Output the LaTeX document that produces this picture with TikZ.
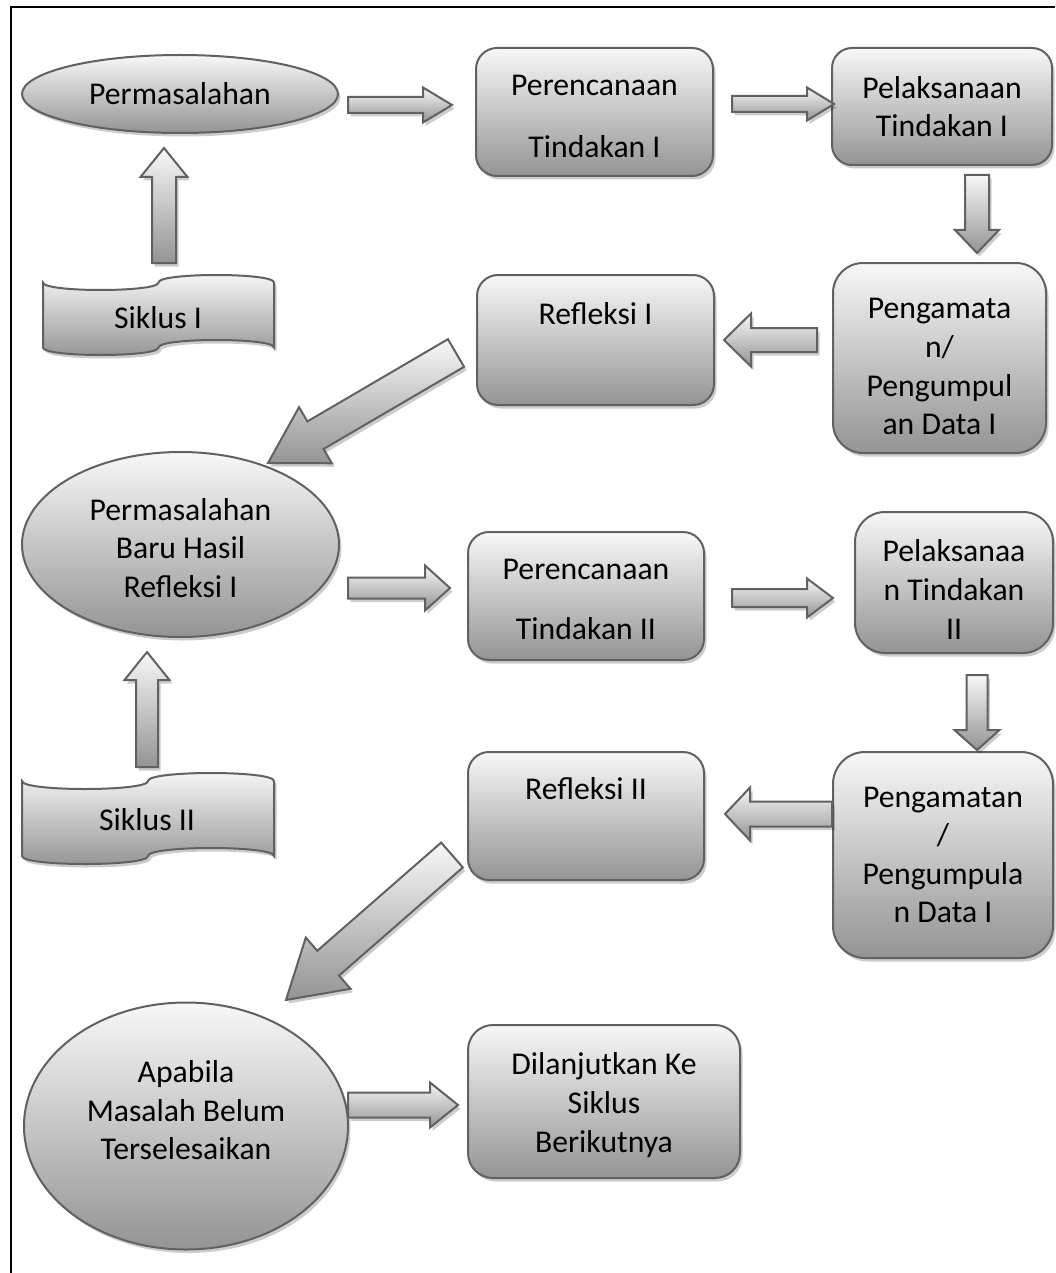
\documentclass[tikz,border=0pt]{standalone}
\usepackage{fontspec}
\setmainfont{Carlito}
\usetikzlibrary{calc}
\usetikzlibrary{shadows}
\usetikzlibrary{shapes.geometric}

% block arrow from #1 to #2: shaft width, head width, head length
\newcommand\blockarrow[5]{%
  \path[barrow] let \p1=(#1), \p2=(#2),
      \n1={atan2(\y2-\y1,\x2-\x1)}, \n2={veclen(\x2-\x1,\y2-\y1)} in
    [shift={(\p1)}, rotate=\n1]
    (0pt,{#3*.5pt}) -- ({\n2*1pt-#5*1pt},{#3*.5pt}) -- ({\n2*1pt-#5*1pt},{#4*.5pt})
    -- ({\n2*1pt},0pt) -- ({\n2*1pt-#5*1pt},{-#4*.5pt}) -- ({\n2*1pt-#5*1pt},{-#3*.5pt})
    -- (0pt,{-#3*.5pt}) -- cycle;}

% punched tape: left, top, width, height, wave depth
\newcommand\tape[5]{%
  \path[grayfill] (#1,{#2+#5})
    .. controls (#1,{#2+#5+4*#5/3}) and ({#1+#3/2},{#2+#5+4*#5/3}) .. ({#1+#3/2},{#2+#5})
    .. controls ({#1+#3/2},{#2+#5-4*#5/3}) and ({#1+#3},{#2+#5-4*#5/3}) .. ({#1+#3},{#2+#5})
    -- ({#1+#3},{#2+#4-#5})
    .. controls ({#1+#3},{#2+#4-#5-4*#5/3}) and ({#1+#3/2},{#2+#4-#5-4*#5/3}) .. ({#1+#3/2},{#2+#4-#5})
    .. controls ({#1+#3/2},{#2+#4-#5+4*#5/3}) and (#1,{#2+#4-#5+4*#5/3}) .. (#1,{#2+#4-#5})
    -- cycle;}

% taller first line, pushes the text down a little
\newcommand\lift[1]{\rule{0pt}{#1pt}}

\tikzset{
  grayfill/.style={top color=black!3, bottom color=black!42, draw=black!62, line width=2pt,
    drop shadow={shadow xshift=2.5pt, shadow yshift=-3.5pt, fill=black, opacity=.2}},
  txt/.style={font=\fontsize{31.7}{38.6}\selectfont, inner sep=0pt, align=center},
  box/.style={grayfill, txt, rectangle, rounded corners=21pt},
  oval/.style={grayfill, txt, ellipse},
  barrow/.style={grayfill, line join=miter}
}

\begin{document}
\begin{tikzpicture}[x=1pt, y=-1pt]
    \useasboundingbox (0,0) rectangle (1055,1273);

    % frame, only top and left are on the page
    \draw[line width=2pt] (1055,7) -- (11,7) -- (11,1273);

    % siklus I
    \node[oval, minimum width=316pt, minimum height=78pt] (e1) at (180,94) {Permasalahan};
    \node[box, minimum width=237pt, minimum height=128pt] (p1) at (594.5,112) {\lift{29}Perencanaan\\[23.4pt]Tindakan I};
    \node[box, minimum width=220pt, minimum height=117pt, rounded corners=20pt] (l1) at (942,106.5) {Pelaksanaan\\Tindakan I};
    \node[box, minimum width=213pt, minimum height=190pt, rounded corners=30pt] (g1) at (939.5,358) {\lift{38}Pengamata\\n/\\Pengumpul\\an Data I};
    \node[box, minimum width=237pt, minimum height=130pt] (r1) at (595.5,340) {Refleksi I\\[15.4pt]~};
    \tape{43}{275}{231}{80}{7.5}
    \node[txt] (sik1) at (158,318) {Siklus I};

    % siklus II
    \node[oval, minimum width=317pt, minimum height=185pt] (e2) at (180.5,544.5) {\lift{29}Permasalahan\\Baru Hasil\\Refleksi I};
    \node[box, minimum width=236pt, minimum height=128pt] (p2) at (586,596) {\lift{28}Perencanaan\\[21.4pt]Tindakan II};
    \node[box, minimum width=198pt, minimum height=141pt, rounded corners=30pt] (l2) at (954,582.5) {\lift{36}Pelaksanaa\\n Tindakan\\II};
    \node[box, minimum width=220pt, minimum height=206pt, rounded corners=32pt] (g2) at (943,855) {Pengamatan\\/\\Pengumpula\\n Data I};
    \node[box, minimum width=236pt, minimum height=128pt] (r2) at (586,816) {Refleksi II\\[17.4pt]~};
    \tape{22}{773}{252}{91}{8}
    \node[txt] (sik2) at (147,820) {Siklus II};

    % end
    \node[oval, minimum width=324pt, minimum height=247pt] (e3) at (186,1126) {Apabila\\Masalah Belum\\Terselesaikan\\[-6.6pt]~};
    \node[box, minimum width=272pt, minimum height=153pt, rounded corners=25pt] (dl) at (604,1101.5) {\lift{29}Dilanjutkan Ke\\Siklus\\Berikutnya};

    % arrows between the shapes
    \coordinate (a1s) at (348,105); \coordinate (a1e) at (452,105);
    \blockarrow{a1s}{a1e}{16}{35}{29}
    \coordinate (a2s) at (732,104); \coordinate (a2e) at (834,104);
    \blockarrow{a2s}{a2e}{16}{33}{27}
    \coordinate (a3s) at (977,175); \coordinate (a3e) at (977,253);
    \blockarrow{a3s}{a3e}{24}{44}{23}
    \coordinate (a4s) at (817,340); \coordinate (a4e) at (724,340);
    \blockarrow{a4s}{a4e}{24}{53}{27}
    \coordinate (a5s) at (456,353); \coordinate (a5e) at (268,463);
    \blockarrow{a5s}{a5e}{32}{65}{55}
    \coordinate (a6s) at (164,263); \coordinate (a6e) at (164,148);
    \blockarrow{a6s}{a6e}{24}{47}{29}

    \coordinate (a7s) at (348,588); \coordinate (a7e) at (450,588);
    \blockarrow{a7s}{a7e}{21}{45}{25}
    \coordinate (a8s) at (732,598); \coordinate (a8e) at (833,598);
    \blockarrow{a8s}{a8e}{18}{39}{26}
    \coordinate (a9s) at (977,675); \coordinate (a9e) at (977,750);
    \blockarrow{a9s}{a9e}{21}{45}{20}
    \coordinate (a10s) at (832,814); \coordinate (a10e) at (725,814);
    \blockarrow{a10s}{a10e}{25}{53}{25}
    \coordinate (a11s) at (147,767); \coordinate (a11e) at (147,652);
    \blockarrow{a11s}{a11e}{22}{45}{28}
    \coordinate (a12s) at (452,855); \coordinate (a12e) at (286,1000);
    \blockarrow{a12s}{a12e}{33}{68}{56}
    \coordinate (a13s) at (348,1105); \coordinate (a13e) at (458,1105);
    \blockarrow{a13s}{a13e}{25}{45}{28}

\end{tikzpicture}
\end{document}
